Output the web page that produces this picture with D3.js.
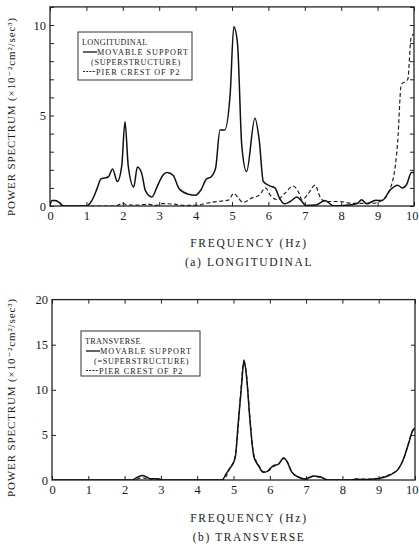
<!DOCTYPE html>
<html><head><meta charset="utf-8">
<script src="https://cdn.jsdelivr.net/npm/d3@7"></script>
<style>body{margin:0;background:#fff}svg{display:block}text{font-family:"Liberation Serif","DejaVu Serif",serif;fill:#1a1a1a}</style>
</head><body>
<script>
const xTicks = [0,1,2,3,4,5,6,7,8,9,10];
const longYTicks = [0,5,10];
const transYTicks = [0,5,10,15,20];

const longSupport = [[0,0.05],[0.05,0.3],[0.15,0.3],[0.25,0.2],[0.35,0.02],[0.5,0],[1.0,0],[1.1,0.15],[1.2,0.5],[1.3,1.0],[1.4,1.5],[1.5,1.55],[1.6,1.6],[1.72,2.05],[1.85,1.35],[1.97,2.2],[2.06,4.65],[2.15,2.2],[2.3,1.05],[2.4,2.15],[2.52,1.8],[2.62,0.85],[2.8,0.5],[2.95,1.1],[3.1,1.7],[3.22,1.85],[3.38,1.7],[3.55,0.95],[3.8,0.65],[4.0,0.6],[4.15,0.9],[4.3,1.5],[4.42,1.6],[4.55,2.1],[4.67,4.2],[4.8,4.2],[4.95,6.2],[5.05,9.9],[5.15,9.0],[5.27,3.3],[5.4,1.9],[5.63,4.85],[5.75,3.6],[5.86,1.35],[6.05,1.1],[6.18,1.0],[6.3,0.45],[6.45,0.12],[6.6,0.25],[6.78,0.5],[6.9,0.3],[7.03,0.03],[7.3,0.05],[7.55,0.3],[7.8,0.0],[8.2,0.05],[8.45,0.15],[8.56,0.35],[8.7,0.12],[8.95,0.32],[9.12,0.3],[9.35,0.9],[9.55,1.15],[9.68,1.0],[9.8,1.2],[9.93,1.85],[10,1.85]];
const longPier = [[0,0.05],[0.05,0.3],[0.15,0.3],[0.25,0.2],[0.35,0.02],[0.5,0],[1.8,0],[2.0,0.15],[2.1,0.08],[2.4,0.05],[2.7,0.1],[2.9,0.03],[3.1,0.13],[3.4,0.1],[3.7,0.03],[4.05,0.05],[4.3,0.15],[4.6,0.25],[4.9,0.32],[5.05,0.7],[5.15,0.5],[5.3,0.2],[5.55,0.45],[5.75,0.6],[5.92,1.0],[6.05,0.6],[6.25,0.35],[6.45,0.7],[6.68,1.1],[6.82,0.8],[6.92,0.35],[7.1,0.7],[7.28,1.15],[7.42,0.5],[7.55,0.25],[7.95,0.25],[8.3,0.15],[8.85,0.15],[9.15,0.35],[9.42,1.45],[9.55,3.5],[9.65,6.7],[9.83,7.0],[9.92,9.3],[10,9.5]];
const transSupport = [[0,0],[2.2,0],[2.35,0.3],[2.5,0.5],[2.62,0.3],[2.7,0.15],[2.95,0.12],[3.05,0],[4.68,0],[4.8,0.7],[4.9,1.3],[5.0,1.9],[5.06,2.8],[5.13,6.3],[5.22,10.4],[5.29,13.3],[5.36,11.4],[5.46,6.3],[5.56,2.6],[5.7,1.5],[5.82,0.85],[5.93,0.95],[6.1,1.6],[6.22,1.7],[6.38,2.4],[6.47,2.1],[6.6,0.9],[6.8,0.3],[6.98,0.1],[7.2,0.45],[7.38,0.35],[7.62,0],[8.2,0],[8.4,0.08],[8.6,0.05],[8.8,0.08],[9.04,0.2],[9.31,0.55],[9.54,1.2],[9.68,2.3],[9.82,4.0],[9.95,5.6],[10,5.7]];
const transPier = [[0,0],[2.25,0],[2.5,0.25],[2.65,0.1],[3.0,0.1],[3.05,0],[4.7,0],[4.82,0.6],[4.92,1.5],[5.02,2.2],[5.1,4.5],[5.2,9.8],[5.28,13.0],[5.35,12.0],[5.45,7.0],[5.55,3.0],[5.7,1.6],[5.82,0.9],[5.95,1.0],[6.1,1.5],[6.25,1.8],[6.38,2.45],[6.48,2.0],[6.6,0.95],[6.8,0.3],[7.0,0.12],[7.2,0.4],[7.4,0.3],[7.6,0],[8.2,0],[8.35,0.12],[8.55,0.1],[8.8,0.1],[9.05,0.25],[9.3,0.6],[9.55,1.3],[9.7,2.5],[9.83,4.2],[9.95,5.5],[10,5.6]];

const yLabel = "POWER SPECTRUM (×10⁻²cm²/sec³)";
const panels = [
  {id:"a", x0:50, x1:414, yb:206, yDom:[0,11], yPx:18.1, yTicks:longYTicks, minor:d3.range(0,12,1),
   support:longSupport, pier:longPier, title:"(a) LONGITUDINAL", legTitle:"LONGITUDINAL", legSub:"(SUPERSTRUCTURE)",
   leg:{x:78,y:32,w:114,h:48}, labY:117, freqY:243, titleY:262},
  {id:"b", x0:52, x1:415, yb:480, yDom:[0,20], yPx:9.02, yTicks:transYTicks, minor:[5,10,15],
   support:transSupport, pier:transPier, title:"(b) TRANSVERSE", legTitle:"TRANSVERSE", legSub:"(=SUPERSTRUCTURE)",
   leg:{x:81,y:331,w:119,h:45}, labY:398, freqY:518, titleY:537}
];

const svg = d3.select("body").append("svg").attr("width",419).attr("height",548);

panels.forEach(p=>{
  const x = d3.scaleLinear().domain([0,10]).range([p.x0,p.x1]);
  const y = d3.scaleLinear().domain(p.yDom).range([p.yb, p.yb - (p.yDom[1]-p.yDom[0])*p.yPx]);
  const g = svg.append("g");
  const top = y(p.yDom[1]);
  g.append("clipPath").attr("id","clip"+p.id).append("rect")
    .attr("x",p.x0).attr("y",top).attr("width",p.x1-p.x0).attr("height",p.yb-top);

  const xa = g.append("g").attr("transform",`translate(0,${p.yb})`)
    .call(d3.axisBottom(x).tickValues(xTicks).tickSizeInner(-4).tickSizeOuter(0).tickPadding(5).tickFormat(d3.format("d")));
  xa.selectAll(".tick text").filter(d=>d===10).attr("text-anchor","end").attr("dx",(418 - p.x1));
  g.append("g").attr("transform",`translate(0,${top})`)
    .call(d3.axisTop(x).tickValues(xTicks).tickSizeInner(-4).tickSizeOuter(0).tickFormat(""));
  g.append("g").attr("transform",`translate(${p.x0},0)`)
    .call(d3.axisLeft(y).tickValues(p.yTicks).tickSizeInner(0).tickSizeOuter(0).tickPadding(4).tickFormat(d3.format("d")));
  g.append("g").attr("transform",`translate(${p.x0},0)`)
    .call(d3.axisLeft(y).tickValues(p.minor).tickSizeInner(-4).tickSizeOuter(0).tickFormat(""));
  g.append("g").attr("transform",`translate(${p.x1},0)`)
    .call(d3.axisRight(y).tickValues(p.minor).tickSizeInner(-4).tickSizeOuter(0).tickFormat(""));
  g.selectAll(".domain").remove();
  g.selectAll(".tick line").attr("stroke","#222").attr("stroke-width",1);
  g.selectAll(".tick text").attr("font-size",12.5).attr("fill","#1a1a1a").style("font-family",'"Liberation Serif",serif');

  g.append("rect").attr("x",p.x0).attr("y",top).attr("width",p.x1-p.x0).attr("height",p.yb-top)
    .attr("fill","none").attr("stroke","#222").attr("stroke-width",1.3);

  const line = d3.line().x(d=>x(d[0])).y(d=>y(d[1])).curve(d3.curveMonotoneX);
  const cg = g.append("g").attr("clip-path",`url(#clip${p.id})`);
  cg.append("path").datum(p.pier).attr("d",line).attr("fill","none").attr("stroke","#222")
    .attr("stroke-width",1.2).attr("stroke-dasharray","4,2.5");
  cg.append("path").datum(p.support).attr("d",line).attr("fill","none").attr("stroke","#111")
    .attr("stroke-width",1.5);

  const L = p.leg;
  const lg = g.append("g");
  lg.append("rect").attr("x",L.x).attr("y",L.y).attr("width",L.w).attr("height",L.h)
    .attr("fill","#fff").attr("stroke","#333").attr("stroke-width",1);
  const fs = 8.2;
  const rows = [L.y+10, L.y+20, L.y+29.5, L.y+39.5];
  lg.append("text").attr("x",L.x+4).attr("y",rows[0]+3).attr("font-size",fs).attr("letter-spacing",0.3).text(p.legTitle);
  lg.append("line").attr("x1",L.x+5).attr("x2",L.x+19).attr("y1",rows[1]).attr("y2",rows[1]).attr("stroke","#111").attr("stroke-width",1.3);
  lg.append("text").attr("x",L.x+19).attr("y",rows[1]+3).attr("font-size",fs).attr("letter-spacing",1.0).text("MOVABLE SUPPORT");
  lg.append("text").attr("x",L.x+13).attr("y",rows[2]+3).attr("font-size",fs).attr("letter-spacing",0.7).text(p.legSub);
  lg.append("line").attr("x1",L.x+5).attr("x2",L.x+18).attr("y1",rows[3]).attr("y2",rows[3]).attr("stroke","#222").attr("stroke-width",1).attr("stroke-dasharray","2,1.2");
  lg.append("text").attr("x",L.x+18).attr("y",rows[3]+3).attr("font-size",fs).attr("letter-spacing",1.0).text("PIER CREST OF P2");

  g.append("text").attr("transform",`translate(15,${p.labY}) rotate(-90)`).attr("text-anchor","middle")
    .attr("font-size",11).attr("textLength",198).attr("lengthAdjust","spacing").text(yLabel);
  g.append("text").attr("x",249).attr("y",p.freqY+4).attr("text-anchor","middle").attr("font-size",11.5)
    .attr("letter-spacing",1.8).text("FREQUENCY (Hz)");
  g.append("text").attr("x",249).attr("y",p.titleY+4).attr("text-anchor","middle").attr("font-size",11.5)
    .attr("letter-spacing",1.6).text(p.title);
});
</script>
</body></html>
